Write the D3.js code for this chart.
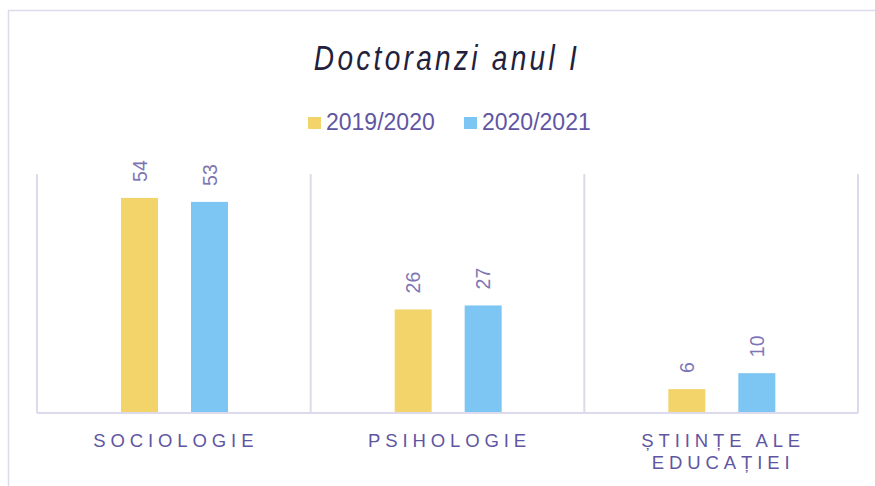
<!DOCTYPE html>
<html>
<head>
<meta charset="utf-8">
<script src="https://cdn.jsdelivr.net/npm/d3@7"></script>
<style>
  body { margin: 0; background: #fff; }
  svg { display: block; }
</style>
</head>
<body>
<div id="chart"></div>
<script>
// chart data
const categories = ["SOCIOLOGIE", "PSIHOLOGIE", "ȘTIINȚE ALE EDUCAȚIEI"];
const seriesNames = ["2019/2020", "2020/2021"];
const values2019 = [54, 26, 6];
const values2020 = [53, 27, 10];
const colors = ["#f2d46b", "#7dc5f2"];

const width = 875, height = 486;
const margin = { left: 37, right: 17, top: 174, bottom: 73 };

const svg = d3.select("#chart").append("svg")
  .attr("width", width)
  .attr("height", height);

// outer frame (right and bottom edges fall off the picture)
svg.append("rect")
  .attr("x", 8.5).attr("y", 10.5)
  .attr("width", 900).attr("height", 500)
  .attr("fill", "none")
  .attr("stroke", "#dcdaeb")
  .attr("stroke-width", 1.5);

const x0 = d3.scaleBand()
  .domain(categories)
  .range([margin.left, width - margin.right]);

// two bars 37px wide with a 33px gap, ~84px in from the band start
const x1 = d3.scaleBand()
  .domain(seriesNames)
  .range([84, 191])
  .paddingInner(33 / 70);

const y = d3.scaleLinear()
  .domain([0, 60])
  .range([height - margin.bottom, margin.top]);

// category separators
svg.append("g")
  .selectAll("line")
  .data(categories.map(c => x0(c)).concat([x0(categories[2]) + x0.bandwidth()]))
  .join("line")
  .attr("x1", d => d).attr("x2", d => d)
  .attr("y1", y(60)).attr("y2", y(0))
  .attr("stroke", "#dcdaeb")
  .attr("stroke-width", 2);

const rows = categories.map((c, i) => ({
  cat: c,
  vals: [
    { s: seriesNames[0], v: values2019[i], c: colors[0] },
    { s: seriesNames[1], v: values2020[i], c: colors[1] }
  ]
}));

const groups = svg.append("g")
  .selectAll("g")
  .data(rows)
  .join("g")
  .attr("transform", d => `translate(${x0(d.cat)},0)`);

groups.selectAll("rect")
  .data(d => d.vals)
  .join("rect")
  .attr("x", d => x1(d.s))
  .attr("width", x1.bandwidth())
  .attr("y", d => y(d.v))
  .attr("height", d => y(0) - y(d.v))
  .attr("fill", d => d.c);

// value labels, rotated
groups.selectAll("text")
  .data(d => d.vals)
  .join("text")
  .attr("transform", d => `translate(${x1(d.s) + x1.bandwidth() / 2 + 7},${y(d.v) - 16}) rotate(-90)`)
  .attr("font-family", "Liberation Sans, Arial, sans-serif")
  .attr("font-size", 19.5)
  .attr("fill", "#7e76b4")
  .text(d => d.v);

// baseline
svg.append("line")
  .attr("x1", margin.left).attr("x2", width - margin.right)
  .attr("y1", y(0)).attr("y2", y(0))
  .attr("stroke", "#dcdaeb")
  .attr("stroke-width", 2);

// category labels
const catLines = {
  "SOCIOLOGIE": ["SOCIOLOGIE"],
  "PSIHOLOGIE": ["PSIHOLOGIE"],
  "ȘTIINȚE ALE EDUCAȚIEI": ["ȘTIINȚE ALE", "EDUCAȚIEI"]
};
svg.append("g")
  .selectAll("text")
  .data(categories)
  .join("text")
  .attr("y", 447)
  .attr("text-anchor", "middle")
  .attr("font-family", "Liberation Sans, Arial, sans-serif")
  .attr("font-size", 18.5)
  .attr("letter-spacing", 4.9)
  .attr("fill", "#5f56a3")
  .each(function(d) {
    d3.select(this).selectAll("tspan")
      .data(catLines[d])
      .join("tspan")
      .attr("x", x0(d) + x0.bandwidth() / 2 + 2)
      .attr("dy", (t, i) => i === 0 ? 0 : 21.5)
      .text(t => t);
  });

// title, squeezed to look like a condensed face
svg.append("text")
  .attr("transform", "translate(447,70) scale(0.78,1)")
  .attr("text-anchor", "middle")
  .attr("font-family", "Liberation Sans, Arial, sans-serif")
  .attr("font-style", "italic")
  .attr("font-size", 36)
  .attr("letter-spacing", 4.2)
  .attr("fill", "#231f3d")
  .text("Doctoranzi anul I");

// legend
const legendX = [308, 464];
const legend = svg.append("g")
  .selectAll("g")
  .data(seriesNames)
  .join("g")
  .attr("transform", (d, i) => `translate(${legendX[i]},117)`);
legend.append("rect")
  .attr("width", 13).attr("height", 12)
  .attr("fill", (d, i) => colors[i]);
legend.append("text")
  .attr("x", 18).attr("y", 13)
  .attr("font-family", "Liberation Sans, Arial, sans-serif")
  .attr("font-size", 23)
  .attr("fill", "#5f56a3")
  .text(d => d);
</script>
</body>
</html>
